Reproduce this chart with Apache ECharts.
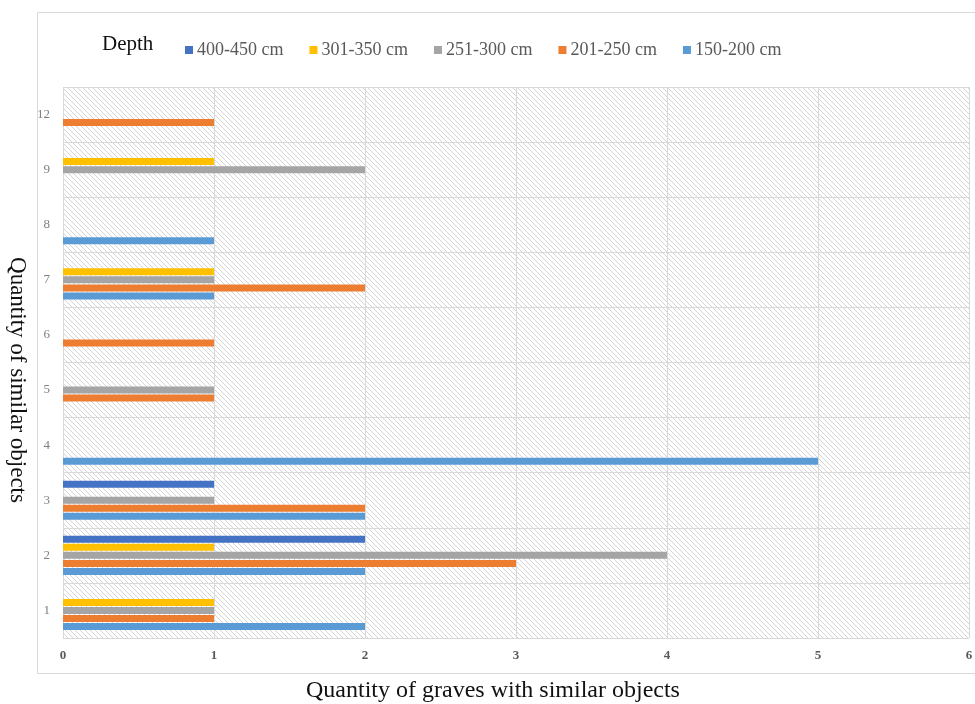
<!DOCTYPE html>
<html>
<head>
<meta charset="utf-8">
<script src="https://cdn.jsdelivr.net/npm/echarts@6/dist/echarts.min.js"></script>
<style>
  html, body { margin: 0; padding: 0; background: #fff; }
  #chart { width: 975px; height: 704px; }
</style>
</head>
<body>
<div id="chart"></div>
<script>
// categories bottom -> top
const categories = ['1', '2', '3', '4', '5', '6', '7', '8', '9', '12'];
const depth150 = [2, 2, 2, 5, 0, 0, 1, 1, 0, 0];
const depth201 = [1, 3, 2, 0, 1, 1, 2, 0, 0, 1];
const depth251 = [1, 4, 1, 0, 1, 0, 1, 0, 2, 0];
const depth301 = [1, 1, 0, 0, 0, 0, 1, 0, 1, 0];
const depth400 = [0, 2, 1, 0, 0, 0, 0, 0, 0, 0];
const xTicks = [0, 1, 2, 3, 4, 5, 6];

// zeros are drawn as nothing
const hide = arr => arr.map(v => (v === 0 ? '-' : v));

// hatch pattern for the plot area
function hatch () {
  const c = document.createElement('canvas');
  c.width = 5; c.height = 5;
  const g = c.getContext('2d');
  g.fillStyle = '#ffffff';
  g.fillRect(0, 0, 5, 5);
  g.strokeStyle = '#d4d4d4';
  g.lineWidth = 1;
  g.beginPath();
  g.moveTo(-1, -1); g.lineTo(6, 6);
  g.moveTo(-1, 4); g.lineTo(1, 6);
  g.moveTo(4, -1); g.lineTo(6, 1);
  g.stroke();
  return c;
}

const serif = '"Liberation Serif", "DejaVu Serif", serif';
const chart = echarts.init(document.getElementById('chart'));

function bar (name, data, color) {
  return {
    name: name,
    type: 'bar',
    data: hide(data),
    barWidth: 7,
    barGap: '15%',
    itemStyle: { color: color },
    emphasis: { disabled: true }
  };
}

chart.setOption({
  animation: false,
  backgroundColor: '#ffffff',
  textStyle: { fontFamily: serif },
  graphic: [
    {
      type: 'rect',
      z: -10,
      shape: { x: 37.5, y: 12.5, width: 950, height: 661 },
      style: { fill: 'none', stroke: '#d9d9d9', lineWidth: 1 }
    },
    {
      type: 'text',
      left: 102,
      top: 34,
      style: { text: 'Depth', fontSize: 21, fontFamily: serif, fill: '#111' }
    },
    // axis titles (placed as in the source figure, off-centre)
    {
      type: 'text',
      x: 493,
      y: 691,
      style: {
        text: 'Quantity of graves with similar objects',
        fontSize: 24, fontFamily: serif, fill: '#111',
        align: 'center', verticalAlign: 'middle'
      }
    },
    {
      type: 'text',
      x: 17,
      y: 380,
      rotation: -Math.PI / 2,
      style: {
        text: 'Quantity of similar objects',
        fontSize: 23, fontFamily: serif, fill: '#111',
        align: 'center', verticalAlign: 'middle'
      }
    }
  ],
  legend: {
    left: 180,
    top: 36,
    itemWidth: 8,
    itemHeight: 8,
    itemGap: 26,
    icon: 'rect',
    textStyle: { fontFamily: serif, fontSize: 18, color: '#595959', padding: [2, 0, 0, -1] },
    data: ['400-450 cm', '301-350 cm', '251-300 cm', '201-250 cm', '150-200 cm']
  },
  grid: {
    left: 63,
    right: 6,
    top: 87,
    bottom: 66,
    outerBoundsMode: 'none',
    show: true,
    borderWidth: 0,
    backgroundColor: { image: hatch(), repeat: 'repeat' }
  },
  xAxis: {
    type: 'value',
    min: 0,
    max: 6,
    interval: 1,
    axisLine: { show: false },
    axisTick: { show: false },
    axisLabel: {
      fontFamily: serif, fontSize: 13, fontWeight: 'bold', color: '#595959', margin: 11,
      formatter: v => (xTicks.includes(v) ? String(v) : '')
    },
    splitLine: { show: true, lineStyle: { color: '#d9d9d9', width: 1 } }
  },
  yAxis: {
    type: 'category',
    data: categories,
    axisLine: { show: false },
    axisTick: { show: false },
    axisLabel: { fontFamily: serif, fontSize: 13, color: '#7f7f7f', margin: 13 },
    splitLine: { show: true, lineStyle: { color: '#d9d9d9', width: 1 } }
  },
  series: [
    bar('400-450 cm', depth400, '#4472C4'),
    bar('301-350 cm', depth301, '#FFC000'),
    bar('251-300 cm', depth251, '#A5A5A5'),
    bar('201-250 cm', depth201, '#ED7D31'),
    bar('150-200 cm', depth150, '#5B9BD5')
  ]
});
</script>
</body>
</html>
